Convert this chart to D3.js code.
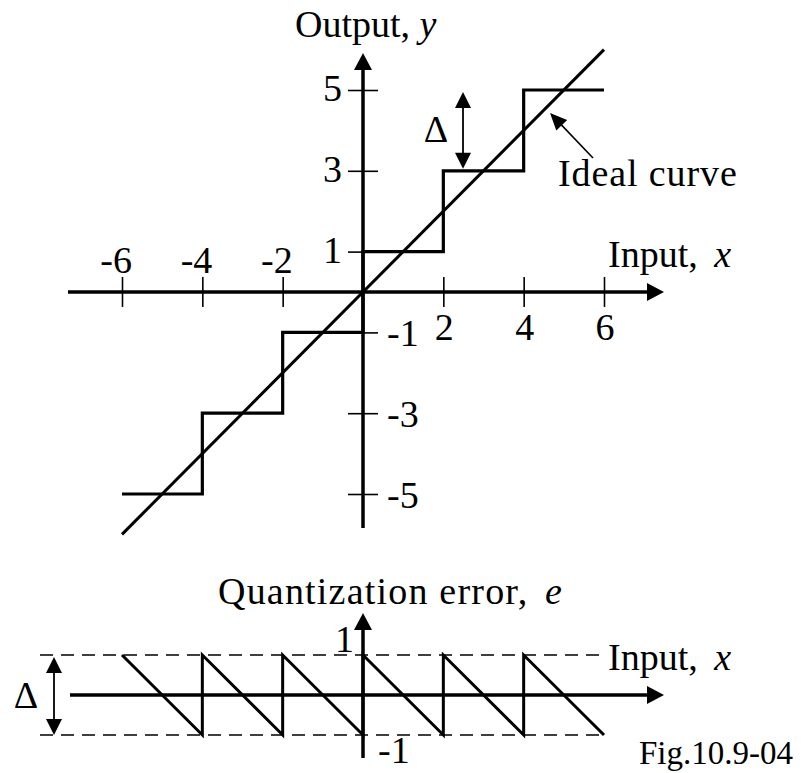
<!DOCTYPE html>
<html>
<head>
<meta charset="utf-8">
<script src="https://cdn.jsdelivr.net/npm/d3@7"></script>
<style>
  html, body { margin: 0; padding: 0; background: #fff; }
  svg text { font-family: "Liberation Serif", "Times New Roman", serif; fill: #000; }
</style>
</head>
<body>
<svg id="chart" width="805" height="773"></svg>
<script>
// Quantizer transfer characteristic and its quantization error
const xTicks = [-6, -4, -2, 2, 4, 6];
const yTicks = [5, 3, 1, -1, -3, -5];
const stepX = [-6, -4, -2, 0, 2, 4, 6];
const stepY = [-5, -3, -1, 1, 3, 5, 5];
const idealX = [-6, 6];
const idealY = [-6, 6];
const errX = [-6, -4, -4, -2, -2, 0, 0, 2, 2, 4, 4, 6];
const errY = [1, -1, 1, -1, 1, -1, 1, -1, 1, -1, 1, -1];
const errTicks = [1, -1];

const svg = d3.select("#chart");
const FS = 38;

// scales
const x = d3.scaleLinear().domain([-6, 6]).range([122, 604]);
const y = d3.scaleLinear().domain([-5, 5]).range([494, 90]);
const ye = d3.scaleLinear().domain([-1, 1]).range([735, 655]);

const x0 = x(0), y0 = y(0), ye0 = ye(0);

function arrowHead(g, tipX, tipY, angle, len, halfW) {
  // filled triangle pointing along angle (radians)
  const c = Math.cos(angle), s = Math.sin(angle);
  const bx = tipX - c * len, by = tipY - s * len;
  const pts = [
    [tipX, tipY],
    [bx - s * halfW, by + c * halfW],
    [bx + s * halfW, by - c * halfW]
  ];
  g.append("path").attr("d", "M" + pts.map(p => p.join(",")).join("L") + "Z").attr("fill", "#000");
}

// ---------- upper plot ----------
const gTop = svg.append("g");

// axis lines
gTop.append("line").attr("x1", 68).attr("x2", 650).attr("y1", y0).attr("y2", y0)
  .attr("stroke", "#000").attr("stroke-width", 3.5);
arrowHead(gTop, 664, y0, 0, 17, 9);
gTop.append("line").attr("x1", x0).attr("x2", x0).attr("y1", 528).attr("y2", 66)
  .attr("stroke", "#000").attr("stroke-width", 3.5);
arrowHead(gTop, x0, 53, -Math.PI / 2, 17, 9);

// ticks crossing the axes
const xAxis = d3.axisBottom(x).tickValues(xTicks).tickSize(30).tickFormat("");
gTop.append("g").attr("transform", `translate(0,${y0 - 15})`).call(xAxis)
  .call(g => g.select(".domain").remove())
  .call(g => g.selectAll(".tick line").attr("stroke-width", 1.6));
const yAxis = d3.axisRight(y).tickValues(yTicks).tickSize(30).tickFormat("");
gTop.append("g").attr("transform", `translate(${x0 - 15},0)`).call(yAxis)
  .call(g => g.select(".domain").remove())
  .call(g => g.selectAll(".tick line").attr("stroke-width", 1.6));

// tick labels
gTop.selectAll(".xl").data(xTicks).join("text")
  .attr("font-size", FS)
  .attr("text-anchor", d => d < 0 ? "end" : "middle")
  .attr("x", d => d < 0 ? x(d) + 10 : x(d) + 1)
  .attr("y", d => d < 0 ? y0 - 19 : y0 + 48)
  .text(d => d);
gTop.selectAll(".yl").data(yTicks).join("text")
  .attr("font-size", FS)
  .attr("text-anchor", d => d > 0 ? "end" : "start")
  .attr("x", d => d > 0 ? x0 - 21 : x0 + 24)
  .attr("y", d => y(d) + (d > 0 ? 11 : 14))
  .text(d => d);

// axis titles
const outT = gTop.append("text").attr("x", 295).attr("y", 37).attr("font-size", FS);
outT.append("tspan").text("Output, ");
outT.append("tspan").attr("font-style", "italic").text("y");
const inT = gTop.append("text").attr("x", 608).attr("y", 267).attr("font-size", FS);
inT.append("tspan").text("Input, ");
inT.append("tspan").attr("dx", 7).attr("font-style", "italic").text("x");

// ideal curve
gTop.append("path")
  .attr("d", d3.line().x(d => x(d[0])).y(d => y(d[1]))(idealX.map((v, i) => [v, idealY[i]])))
  .attr("fill", "none").attr("stroke", "#000").attr("stroke-width", 3);

// quantizer staircase
gTop.append("path")
  .attr("d", d3.line().curve(d3.curveStepAfter).x(d => x(d[0])).y(d => y(d[1]))(stepX.map((v, i) => [v, stepY[i]])))
  .attr("fill", "none").attr("stroke", "#000").attr("stroke-width", 3.2);

// step height marker
const dX = 463;
gTop.append("line").attr("x1", dX).attr("x2", dX).attr("y1", y(5) + 14).attr("y2", y(3) - 14)
  .attr("stroke", "#000").attr("stroke-width", 1.8);
arrowHead(gTop, dX, y(5) + 2, -Math.PI / 2, 16, 8);
arrowHead(gTop, dX, y(3) - 2, Math.PI / 2, 16, 8);
gTop.append("text").attr("x", 436).attr("y", 142).attr("font-size", FS).attr("text-anchor", "middle").text("Δ");

// pointer to the ideal curve
const tip = [550, 113], tail = [593, 158];
const ang = Math.atan2(tip[1] - tail[1], tip[0] - tail[0]);
gTop.append("line").attr("x1", tail[0]).attr("y1", tail[1])
  .attr("x2", tip[0] - Math.cos(ang) * 12).attr("y2", tip[1] - Math.sin(ang) * 12)
  .attr("stroke", "#000").attr("stroke-width", 1.6);
arrowHead(gTop, tip[0], tip[1], ang, 17, 7.5);
gTop.append("text").attr("x", 558).attr("y", 186).attr("font-size", FS)
  .attr("letter-spacing", 0.9).text("Ideal curve");

// ---------- lower plot: quantization error ----------
const gBot = svg.append("g");

// dashed bounds
gBot.selectAll(".bound").data(errTicks).join("line")
  .attr("x1", 40).attr("x2", 607).attr("y1", d => ye(d)).attr("y2", d => ye(d))
  .attr("stroke", "#000").attr("stroke-width", 1.5).attr("stroke-dasharray", "13,8");

// axes
gBot.append("line").attr("x1", 70).attr("x2", 650).attr("y1", ye0).attr("y2", ye0)
  .attr("stroke", "#000").attr("stroke-width", 3.5);
arrowHead(gBot, 664, ye0, 0, 17, 9);
gBot.append("line").attr("x1", x0).attr("x2", x0).attr("y1", 758).attr("y2", 626)
  .attr("stroke", "#000").attr("stroke-width", 3.5);
arrowHead(gBot, x0, 613, -Math.PI / 2, 17, 9);

// sawtooth error
gBot.append("path")
  .attr("d", d3.line().x(d => x(d[0])).y(d => ye(d[1]))(errX.map((v, i) => [v, errY[i]])))
  .attr("fill", "none").attr("stroke", "#000").attr("stroke-width", 3).attr("stroke-linejoin", "miter");

// labels
gBot.append("text").attr("x", x0 - 9).attr("y", ye(1) - 3).attr("font-size", FS)
  .attr("text-anchor", "end").text(errTicks[0]);
gBot.append("text").attr("x", x0 + 15).attr("y", ye(-1) + 28).attr("font-size", FS)
  .text(errTicks[1]);

const qT = gBot.append("text").attr("x", 218).attr("y", 604).attr("font-size", FS)
  .attr("letter-spacing", 1.2);
qT.append("tspan").text("Quantization error, ");
qT.append("tspan").attr("dx", 6).attr("font-style", "italic").text("e");
const in2 = gBot.append("text").attr("x", 608).attr("y", 670).attr("font-size", FS);
in2.append("tspan").text("Input, ");
in2.append("tspan").attr("dx", 7).attr("font-style", "italic").text("x");

// error range marker
const eX = 54;
gBot.append("line").attr("x1", eX).attr("x2", eX).attr("y1", ye(1) + 14).attr("y2", ye(-1) - 14)
  .attr("stroke", "#000").attr("stroke-width", 1.8);
arrowHead(gBot, eX, ye(1) + 2, -Math.PI / 2, 16, 8);
arrowHead(gBot, eX, ye(-1), Math.PI / 2, 16, 8);
gBot.append("text").attr("x", 26).attr("y", 708).attr("font-size", FS).attr("text-anchor", "middle").text("Δ");

svg.append("text").attr("x", 639).attr("y", 764).attr("font-size", 33).text("Fig.10.9-04");
</script>
</body>
</html>
